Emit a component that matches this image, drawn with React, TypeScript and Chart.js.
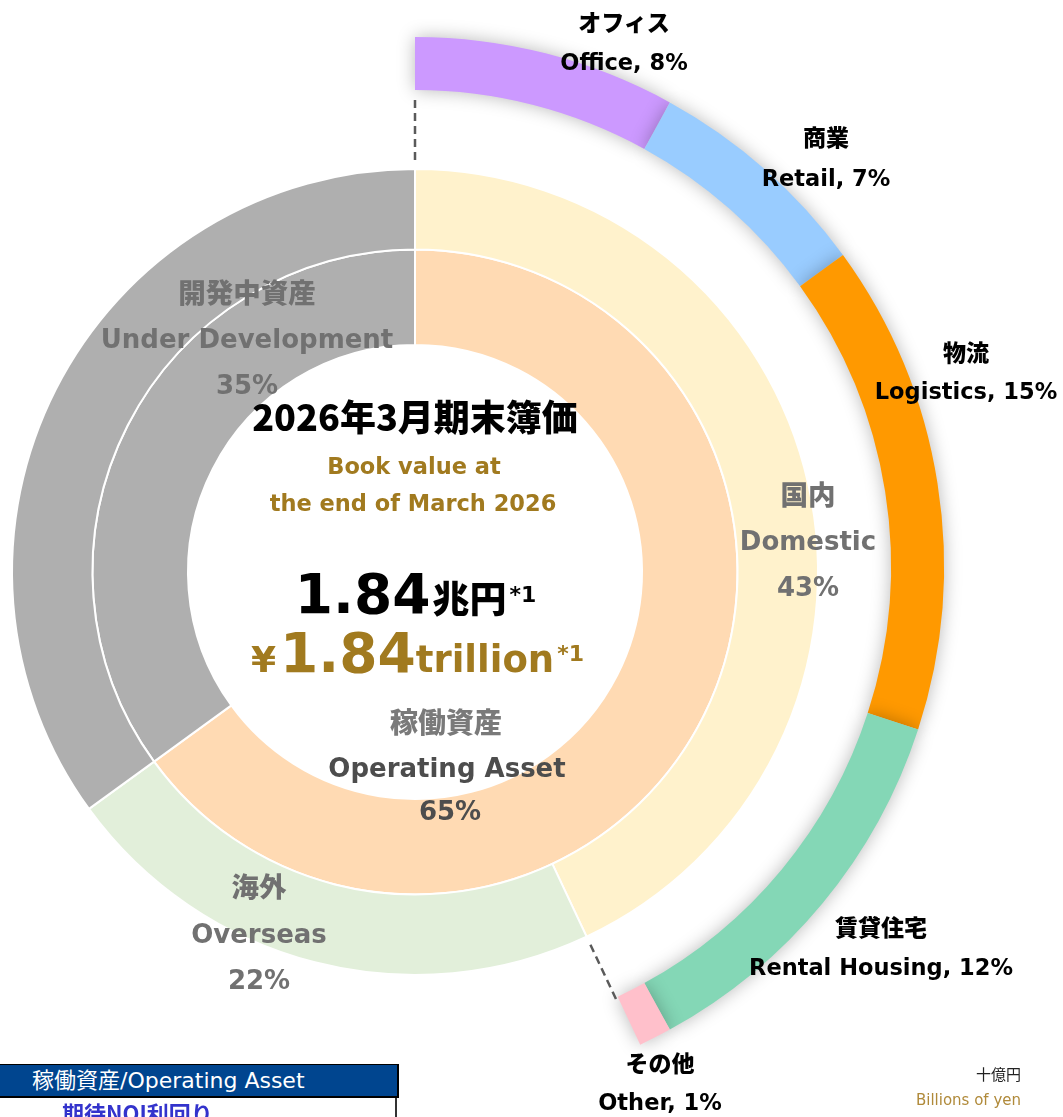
import React, { useEffect, useRef } from 'react';
import { Chart, registerables } from 'chart.js';

Chart.register(...registerables);

// ---------- data ----------
const segmentNamesJa = ['オフィス', '商業', '物流', '賃貸住宅', 'その他'];
const segmentNamesEn = ['Office', 'Retail', 'Logistics', 'Rental Housing', 'Other'];
const segmentShares = [8, 7, 15, 12, 1];
const segmentColors = ['#CC99FF', '#99CCFF', '#FF9900', '#84D7B6', '#FFC0CB'];

const regionNamesJa = ['国内', '海外', '開発中資産'];
const regionNamesEn = ['Domestic', 'Overseas', 'Under Development'];
const regionShares = [43, 22, 35];
const regionColors = ['#FFF2CC', '#E2EFDA', '#AFAFAF'];

const statusNamesJa = ['稼働資産', '開発中資産'];
const statusNamesEn = ['Operating Asset', 'Under Development'];
const statusShares = [65, 35];
const statusColors = ['#FFDAB3', '#AFAFAF'];

const bookValueTrillion = '1.84';
const unitJa = '十億円';
const unitEn = 'Billions of yen';

// ---------- layout / style ----------
const W = 1063;
const H = 1117;
const LATIN = "'DejaVu Sans', 'Noto Sans CJK JP', sans-serif";
const CJK = "'Noto Sans CJK JP', 'DejaVu Sans', sans-serif";
const GOLD = '#A17A1F';
const RING_TEXT = '#717171';

const segLabelPos = [
  [624, 22, 62],
  [826, 137, 178],
  [966, 352, 391],
  [881, 927, 967],
  [660, 1063, 1102],
];
const regionLabelPos = [
  [808, 495, 541, 587],
  [259, 887, 934, 980],
  [247, 293, 339, 385],
];

const ringShadow = {
  id: 'ringShadow',
  beforeDatasetDraw(chart: any) {
    const ctx = chart.ctx;
    ctx.save();
    ctx.shadowColor = 'rgba(0,0,0,0.28)';
    ctx.shadowBlur = 18;
  },
  afterDatasetDraw(chart: any) {
    chart.ctx.restore();
  },
};

const LEADER_OUTER_R = 474;
const dashedLeaders = {
  id: 'dashedLeaders',
  afterDatasetsDraw(chart: any) {
    const region = chart.getDatasetMeta(0).data[0] as any;
    if (!region) return;
    const { x, y } = region;
    const r0 = region.outerRadius + 9;
    const r1 = LEADER_OUTER_R;
    const ctx = chart.ctx;
    ctx.save();
    ctx.strokeStyle = '#5a5a5a';
    ctx.lineWidth = 2.5;
    ctx.setLineDash([8, 5]);
    for (const a of [region.startAngle, region.endAngle]) {
      ctx.beginPath();
      ctx.moveTo(x + Math.cos(a) * r0, y + Math.sin(a) * r0);
      ctx.lineTo(x + Math.cos(a) * r1, y + Math.sin(a) * r1);
      ctx.stroke();
    }
    ctx.restore();
  },
};

function Txt(props: {
  x: number;
  y: number;
  size: number;
  color?: string;
  weight?: number;
  family?: string;
  align?: 'center' | 'left' | 'right';
  children: React.ReactNode;
}) {
  const { x, y, size, color = '#000', weight = 700, family = LATIN, align = 'center', children } = props;
  const tx = align === 'center' ? '-50%' : align === 'right' ? '-100%' : '0';
  return (
    <div
      style={{
        position: 'absolute',
        left: x,
        top: y,
        transform: `translate(${tx}, -50%)`,
        fontSize: size,
        lineHeight: 1,
        fontWeight: weight,
        color,
        fontFamily: family,
        whiteSpace: 'nowrap',
      }}
    >
      {children}
    </div>
  );
}

const baseOptions = (radius: number, cutoutPx: number, top: number) =>
  ({
    responsive: false,
    animation: false,
    events: [],
    radius,
    cutout: `${(cutoutPx / radius) * 100}%`,
    layout: { padding: { left: 0, right: 233, top, bottom: 0 } },
    plugins: { legend: { display: false }, tooltip: { enabled: false } },
  } as any);

export default function App() {
  const outerRef = useRef<HTMLCanvasElement>(null);
  const innerRef = useRef<HTMLCanvasElement>(null);

  useEffect(() => {
    const rest = 100 - segmentShares.reduce((s, v) => s + v, 0);
    const outer = new Chart(outerRef.current as HTMLCanvasElement, {
      type: 'doughnut',
      data: {
        labels: [...segmentNamesEn, ''],
        datasets: [
          {
            data: [...segmentShares, rest],
            backgroundColor: [...segmentColors, 'rgba(0,0,0,0)'],
            borderWidth: 0,
          } as any,
        ],
      },
      options: baseOptions(529, 476, 15),
      plugins: [ringShadow],
    });
    const inner = new Chart(innerRef.current as HTMLCanvasElement, {
      type: 'doughnut',
      data: {
        labels: regionNamesEn,
        datasets: [
          {
            data: regionShares,
            backgroundColor: regionColors,
            borderColor: '#ffffff',
            borderWidth: 2,
            weight: 80,
          } as any,
          {
            data: statusShares,
            backgroundColor: statusColors,
            borderColor: '#ffffff',
            borderWidth: 2,
            weight: 95,
          } as any,
        ],
      },
      options: baseOptions(403, 227, 27),
      plugins: [dashedLeaders],
    });
    return () => {
      outer.destroy();
      inner.destroy();
    };
  }, []);

  const canvasStyle: React.CSSProperties = { position: 'absolute', left: 0, top: 0, width: W, height: H };

  return (
    <div
      style={{
        position: 'absolute',
        left: 0,
        top: 0,
        width: W,
        height: H,
        overflow: 'hidden',
        background: '#fff',
      }}
    >
      <canvas ref={outerRef} width={W} height={H} style={canvasStyle} />
      <canvas ref={innerRef} width={W} height={H} style={canvasStyle} />

      {/* outer segment labels */}
      {segmentNamesJa.map((ja, i) => (
        <React.Fragment key={ja}>
          <Txt x={segLabelPos[i][0]} y={segLabelPos[i][1] - 1} size={23} weight={900} family={CJK}>
            {ja}
          </Txt>
          <Txt x={segLabelPos[i][0]} y={segLabelPos[i][2]} size={22.5}>
            {`${segmentNamesEn[i]}, ${segmentShares[i]}%`}
          </Txt>
        </React.Fragment>
      ))}

      {/* region ring labels */}
      {regionNamesJa.map((ja, i) => (
        <React.Fragment key={ja}>
          <Txt x={regionLabelPos[i][0]} y={regionLabelPos[i][1] - 1} size={27.5} weight={900} family={CJK} color={RING_TEXT}>
            {ja}
          </Txt>
          <Txt x={regionLabelPos[i][0]} y={regionLabelPos[i][2]} size={26} color={RING_TEXT}>
            {regionNamesEn[i]}
          </Txt>
          <Txt x={regionLabelPos[i][0]} y={regionLabelPos[i][3]} size={26} color={RING_TEXT}>
            {`${regionShares[i]}%`}
          </Txt>
        </React.Fragment>
      ))}

      {/* centre */}
      <Txt x={415} y={415} size={36} weight={900} family={CJK}>
        2026年3月期末簿価
      </Txt>
      <Txt x={414} y={466} size={22.5} color={GOLD}>
        Book value at
      </Txt>
      <Txt x={413} y={503} size={22.5} color={GOLD}>
        the end of March 2026
      </Txt>

      <div
        style={{
          position: 'absolute',
          left: 415.5,
          top: 614 - 0.846 * 55,
          transform: 'translateX(-50%)',
          display: 'flex',
          alignItems: 'baseline',
          whiteSpace: 'nowrap',
          color: '#000',
          fontWeight: 700,
        }}
      >
        <span style={{ fontFamily: LATIN, fontSize: 55, lineHeight: 1 }}>{bookValueTrillion}</span>
        <span style={{ fontFamily: CJK, fontWeight: 900, fontSize: 37, lineHeight: 1, marginLeft: 2 }}>兆円</span>
        <span style={{ fontFamily: LATIN, fontSize: 22, lineHeight: 1, position: 'relative', top: -11, marginLeft: 3 }}>*1</span>
      </div>

      <div
        style={{
          position: 'absolute',
          left: 417.5,
          top: 673 - 0.846 * 55,
          transform: 'translateX(-50%)',
          display: 'flex',
          alignItems: 'baseline',
          whiteSpace: 'nowrap',
          color: GOLD,
          fontWeight: 700,
          fontFamily: LATIN,
        }}
      >
        <span style={{ fontSize: 36, lineHeight: 1, marginRight: 4 }}>¥</span>
        <span style={{ fontSize: 55, lineHeight: 1 }}>{bookValueTrillion}</span>
        <span style={{ fontSize: 37, lineHeight: 1 }}>trillion</span>
        <span style={{ fontSize: 22, lineHeight: 1, position: 'relative', top: -11, marginLeft: 3 }}>*1</span>
      </div>

      <Txt x={446} y={721} size={28} weight={900} family={CJK} color="#7a7a7a">
        {statusNamesJa[0]}
      </Txt>
      <Txt x={447} y={768} size={26} color="#4d4d4d">
        {statusNamesEn[0]}
      </Txt>
      <Txt x={450} y={811} size={26} color="#4d4d4d">
        {`${statusShares[0]}%`}
      </Txt>

      {/* units */}
      <Txt x={1021} y={1073} size={15} weight={400} family={CJK} color="#222" align="right">
        {unitJa}
      </Txt>
      <Txt x={1021} y={1100} size={15} weight={400} color="#B08A3A" align="right">
        {unitEn}
      </Txt>

      {/* table fragment */}
      <div
        style={{
          position: 'absolute',
          left: 0,
          top: 1064,
          width: 399,
          height: 34,
          boxSizing: 'border-box',
          background: '#00458F',
          borderTop: '1px solid #000',
          borderBottom: '2px solid #000',
          borderRight: '2px solid #000',
        }}
      />
      <Txt x={32} y={1081} size={22} weight={400} color="#fff" align="left">
        {`${statusNamesJa[0]}/${statusNamesEn[0]}`}
      </Txt>
      <div style={{ position: 'absolute', left: 395, top: 1098, width: 2, height: 19, background: '#333' }} />
      <div
        style={{
          position: 'absolute',
          left: 62,
          top: 1101,
          fontSize: 22,
          lineHeight: 1,
          fontWeight: 700,
          color: '#3333CC',
          fontFamily: CJK,
          whiteSpace: 'nowrap',
        }}
      >
        期待NOI利回り
      </div>
    </div>
  );
}
